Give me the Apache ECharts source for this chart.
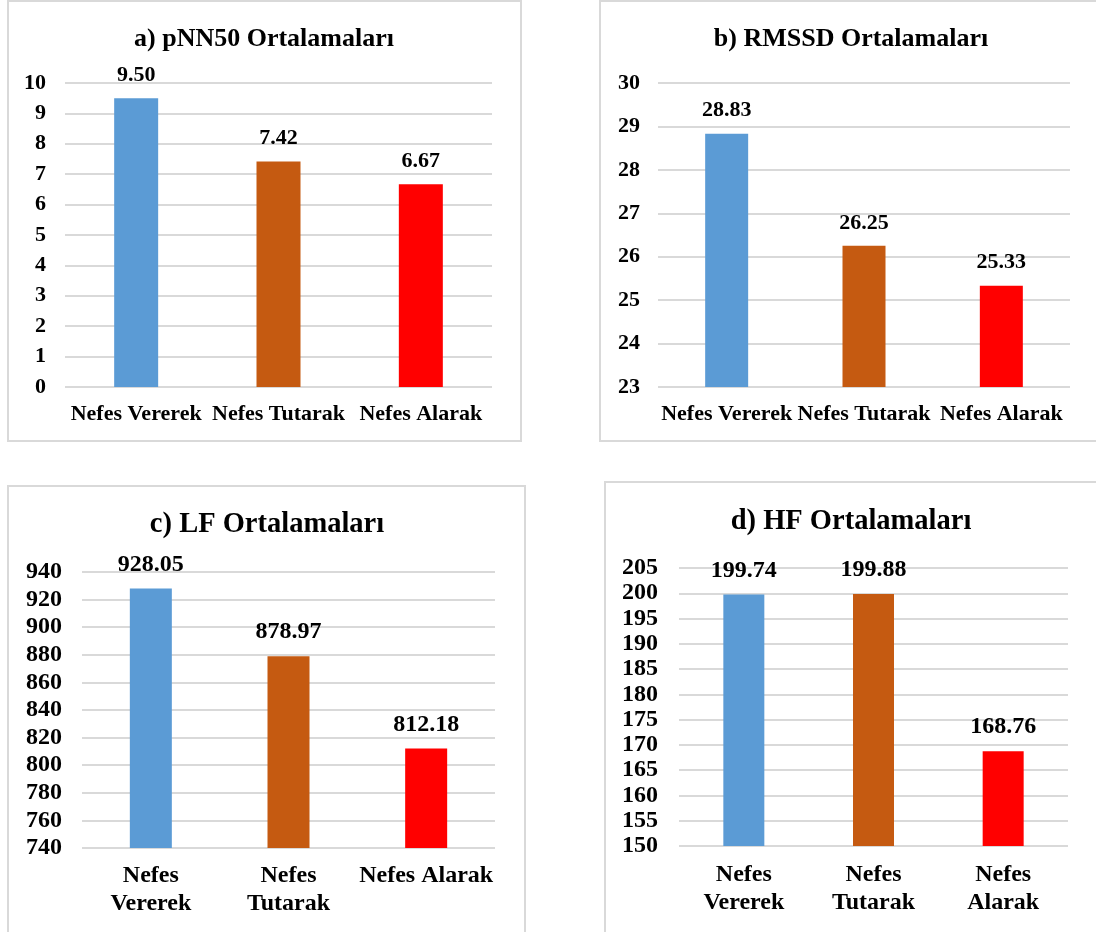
<!DOCTYPE html>
<html>
<head>
<meta charset="utf-8">
<script src="https://cdn.jsdelivr.net/npm/echarts@6/dist/echarts.min.js"></script>
<style>
html,body{margin:0;padding:0;background:#fff;}
#chart{width:1096px;height:932px;}
</style>
</head>
<body>
<div id="chart"></div>
<script>
var categories = ['Nefes Vererek', 'Nefes Tutarak', 'Nefes Alarak'];
var titles = ['a) pNN50 Ortalamaları', 'b) RMSSD Ortalamaları', 'c) LF Ortalamaları', 'd) HF Ortalamaları'];
var pnn50Values = [9.50, 7.42, 6.67];
var rmssdValues = [28.83, 26.25, 25.33];
var lfValues = [928.05, 878.97, 812.18];
var hfValues = [199.74, 199.88, 168.76];
var pnn50Axis = {min: 0, max: 10, interval: 1};
var rmssdAxis = {min: 23, max: 30, interval: 1};
var lfAxis = {min: 740, max: 940, interval: 20};
var hfAxis = {min: 150, max: 205, interval: 5};
var barColors = ['#5B9BD5', '#C55A11', '#FF0000'];
// which category labels wrap onto two lines, per panel
var pnn50Wrap = [false, false, false];
var rmssdWrap = [false, false, false];
var lfWrap = [true, true, false];
var hfWrap = [true, true, true];

var FONT = '"Liberation Serif","Times New Roman",serif';

var panels = [
  {values: pnn50Values, axis: pnn50Axis, wrap: pnn50Wrap, grid: {left: 65, top: 83, width: 427, height: 304},
   titleX: 264, titleTop: 26, titleSize: 26, tickSize: 22, labelSize: 22, catSize: 22, catMargin: 13, barWidth: 44, yMargin: 19,
   box: {x: 8, y: 1, width: 513, height: 440}},
  {values: rmssdValues, axis: rmssdAxis, wrap: rmssdWrap, grid: {left: 658, top: 83, width: 412, height: 304},
   titleX: 851, titleTop: 26, titleSize: 26, tickSize: 22, labelSize: 22, catSize: 22, catMargin: 13, barWidth: 43, yMargin: 18,
   box: {x: 600, y: 1, width: 520, height: 440}},
  {values: lfValues, axis: lfAxis, wrap: lfWrap, grid: {left: 82, top: 572, width: 413, height: 276},
   titleX: 267, titleTop: 510, titleSize: 28.5, tickSize: 24, labelSize: 24, catSize: 24, catMargin: 14, barWidth: 42, yMargin: 20,
   box: {x: 8, y: 486, width: 517, height: 470}},
  {values: hfValues, axis: hfAxis, wrap: hfWrap, grid: {left: 679, top: 568, width: 389, height: 278},
   titleX: 851, titleTop: 507, titleSize: 28.5, tickSize: 24, labelSize: 24, catSize: 24, catMargin: 15, barWidth: 41, yMargin: 21,
   box: {x: 605, y: 482, width: 520, height: 470}}
];

var option = {
  animation: false,
  color: barColors,
  title: [], grid: [], xAxis: [], yAxis: [], series: [], graphic: []
};

panels.forEach(function (p, i) {
  option.graphic.push({
    type: 'rect', silent: true, z: -10,
    shape: {x: p.box.x, y: p.box.y, width: p.box.width, height: p.box.height},
    style: {fill: 'none', stroke: '#D9D9D9', lineWidth: 2}
  });
  option.title.push({
    text: titles[i], left: p.titleX, top: p.titleTop, textAlign: 'center', padding: 0,
    textStyle: {fontFamily: FONT, fontWeight: 'bold', fontSize: p.titleSize, lineHeight: p.titleSize, color: '#000'}
  });
  option.grid.push({left: p.grid.left, top: p.grid.top, width: p.grid.width, height: p.grid.height, containLabel: false});
  option.xAxis.push({
    type: 'category', gridIndex: i, data: categories,
    axisLine: {show: false}, axisTick: {show: false},
    axisLabel: {
      interval: 0, margin: p.catMargin, color: '#000', fontFamily: FONT, fontWeight: 'bold',
      fontSize: p.catSize, lineHeight: 28,
      formatter: (function (wrap) {
        return function (value, idx) { return wrap[idx] ? value.replace(' ', '\n') : value; };
      })(p.wrap)
    }
  });
  option.yAxis.push({
    type: 'value', gridIndex: i, min: p.axis.min, max: p.axis.max, interval: p.axis.interval,
    axisLine: {show: false}, axisTick: {show: false},
    axisLabel: {margin: p.yMargin, color: '#000', fontFamily: FONT, fontWeight: 'bold', fontSize: p.tickSize},
    splitLine: {show: true, lineStyle: {color: '#D9D9D9', width: 2}}
  });
  option.series.push({
    type: 'bar', xAxisIndex: i, yAxisIndex: i, data: p.values, colorBy: 'data',
    barWidth: p.barWidth,
    label: {
      show: true, position: 'top', distance: 12, color: '#000', fontFamily: FONT, fontWeight: 'bold',
      fontSize: p.labelSize, formatter: function (d) { return d.value.toFixed(2); }
    }
  });
});

var chart = echarts.init(document.getElementById('chart'), null, {renderer: 'canvas'});
chart.setOption(option);
</script>
</body>
</html>
